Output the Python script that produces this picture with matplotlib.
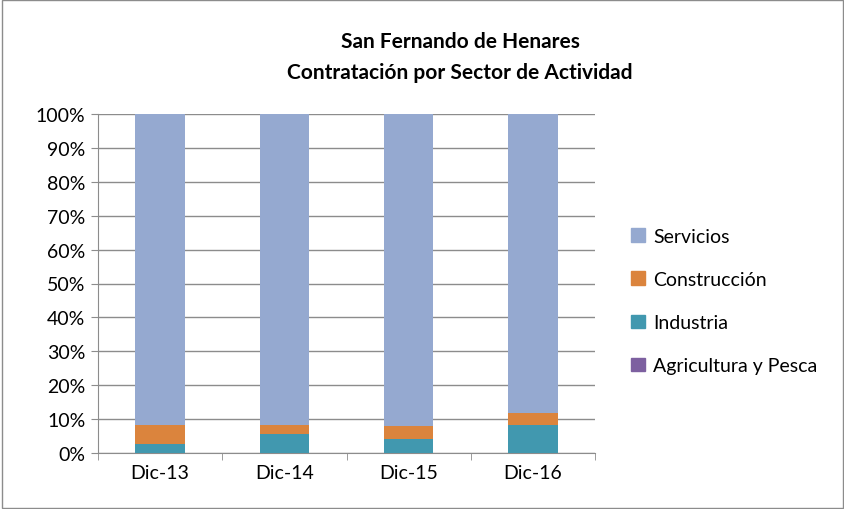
import numpy as np
import matplotlib.pyplot as plt
from matplotlib.patches import Patch, Rectangle

plt.rcParams['font.family'] = ['Lato', 'DejaVu Sans']

# data (shares in %)
periods = ['Dic-13', 'Dic-14', 'Dic-15', 'Dic-16']
agricultura = [0.1, 0.1, 0.1, 0.1]
industria = [2.6, 5.6, 3.9, 8.3]
construccion = [5.7, 2.7, 4.1, 3.4]
servicios = [100 - a - i - c for a, i, c in zip(agricultura, industria, construccion)]

series = [
    ('Agricultura y Pesca', agricultura, '#7D60A0'),
    ('Industria', industria, '#4198AF'),
    ('Construcción', construccion, '#DB843D'),
    ('Servicios', servicios, '#95A9D0'),
]

fig = plt.figure(figsize=(8.45, 5.1), dpi=100)
fig.patches.append(Rectangle((0.002, 0.002), 0.996, 0.996, transform=fig.transFigure,
                             fill=False, edgecolor='#8c8c8c', linewidth=1))
ax = fig.add_axes([98/845, 1 - 454/510, (595 - 98)/845, (454 - 115)/510])

x = np.arange(len(periods))
bottom = np.zeros(len(periods))
for name, vals, col in series:
    ax.bar(x, vals, 0.4, bottom=bottom, color=col, label=name, zorder=3)
    bottom += np.array(vals)

ax.set_xlim(-0.5, len(periods) - 0.5)
ax.set_ylim(0, 100)
ax.set_yticks(np.arange(0, 101, 10))
ax.set_yticklabels([f'{v}%' for v in range(0, 101, 10)], fontsize=14)
ax.set_xticks(x)
ax.set_xticklabels(periods, fontsize=14)
ax.set_xticks(np.arange(-0.5, len(periods), 1), minor=True)
ax.tick_params(axis='x', which='major', length=0, pad=8)
ax.tick_params(axis='x', which='minor', length=5, color='#8c8c8c')
ax.tick_params(axis='y', length=5, color='#8c8c8c', pad=4)
ax.grid(axis='y', color='#8c8c8c', linewidth=1, zorder=0)
for s in ['top', 'right']:
    ax.spines[s].set_visible(False)
ax.spines['left'].set_color('#8c8c8c')
ax.spines['bottom'].set_color('#8c8c8c')

fig.text(460/845, 1 - 42/510, 'San Fernando de Henares', ha='center', va='center',
         fontsize=15, fontweight='bold')
fig.text(460/845, 1 - 73/510, 'Contratación por Sector de Actividad', ha='center', va='center',
         fontsize=15, fontweight='bold')

handles = [Patch(color=col, label=name) for name, vals, col in series[::-1]]
fig.legend(handles=handles, loc='center left', bbox_to_anchor=(614/845, 1 - 302/510),
           frameon=False, fontsize=14, handlelength=0.7, handleheight=0.7,
           labelspacing=1.35, handletextpad=0.4)

fig.savefig('out.png', dpi=100)
